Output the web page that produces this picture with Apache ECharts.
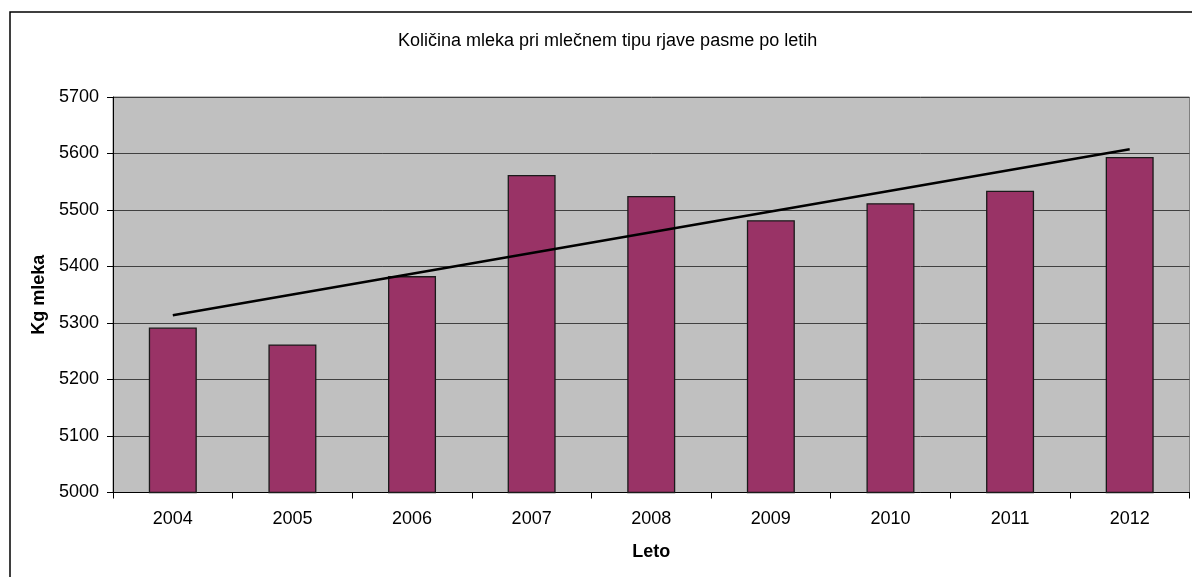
<!DOCTYPE html>
<html>
<head>
<meta charset="utf-8">
<script src="https://cdn.jsdelivr.net/npm/echarts@6/dist/echarts.min.js"></script>
<style>
html,body{margin:0;padding:0;background:#fff;}
#chart{width:1192px;height:577px;}
</style>
</head>
<body>
<div id="chart"></div>
<script>
const categories = ['2004','2005','2006','2007','2008','2009','2010','2011','2012'];
const milkValues = [5292, 5262, 5383, 5562, 5525, 5482, 5512, 5534, 5594];
const yTicks = [5000, 5100, 5200, 5300, 5400, 5500, 5600, 5700];
const titleText = 'Količina mleka pri mlečnem tipu rjave pasme po letih';
const xName = 'Leto';
const yName = 'Kg mleka';

// linear trend (least squares) computed from the data
const n = milkValues.length;
const mx = (n - 1) / 2;
const my = milkValues.reduce((a, b) => a + b, 0) / n;
let sxy = 0, sxx = 0;
milkValues.forEach((v, i) => { sxy += (i - mx) * (v - my); sxx += (i - mx) * (i - mx); });
const slope = sxy / sxx;
const trendValues = milkValues.map((v, i) => my + slope * (i - mx));

const FONT = '"Liberation Sans", Arial, sans-serif';
const FS = 18;
const chart = echarts.init(document.getElementById('chart'));
chart.setOption({
  animation: false,
  backgroundColor: '#ffffff',
  title: {
    text: titleText,
    left: 393,
    top: 27,
    textStyle: { fontFamily: FONT, fontSize: FS, fontWeight: 'normal', color: '#000' }
  },
  graphic: [{
    type: 'rect',
    shape: { x: 10, y: 12, width: 1300, height: 700 },
    style: { fill: 'none', stroke: '#000', lineWidth: 1.5 },
    silent: true,
    z: 0
  }],
  grid: {
    left: 113, right: 2.5, top: 97, bottom: 84.5,
    show: true,
    backgroundColor: '#c0c0c0',
    borderColor: '#808080',
    borderWidth: 1
  },
  xAxis: {
    type: 'category',
    data: categories,
    name: xName,
    nameLocation: 'middle',
    nameGap: 51,
    nameTextStyle: { fontFamily: FONT, fontSize: FS, fontWeight: 'bold', color: '#000' },
    axisLine: { lineStyle: { color: '#000', width: 1 } },
    axisTick: { show: true, length: 6, lineStyle: { color: '#000' } },
    axisLabel: { fontFamily: FONT, fontSize: FS, color: '#000', margin: 18 },
    splitLine: { show: false }
  },
  yAxis: {
    type: 'value',
    min: yTicks[0],
    max: yTicks[yTicks.length - 1],
    interval: yTicks[1] - yTicks[0],
    name: yName,
    nameLocation: 'middle',
    nameGap: 57,
    nameTextStyle: { fontFamily: FONT, fontSize: FS, fontWeight: 'bold', color: '#000' },
    axisLine: { show: true, lineStyle: { color: '#000', width: 1 } },
    axisTick: { show: true, length: 6, lineStyle: { color: '#000' } },
    axisLabel: { fontFamily: FONT, fontSize: FS, color: '#000', margin: 14, formatter: v => String(v) },
    splitLine: { show: true, lineStyle: { color: '#404040', width: 1 } }
  },
  series: [{
    type: 'bar',
    data: milkValues,
    barWidth: 48,
    itemStyle: { color: '#993366', borderColor: '#1a1a1a', borderWidth: 1.3 }
  }, {
    type: 'line',
    data: trendValues,
    symbol: 'none',
    lineStyle: { color: '#000', width: 2.5 },
    z: 5
  }]
});
</script>
</body>
</html>
